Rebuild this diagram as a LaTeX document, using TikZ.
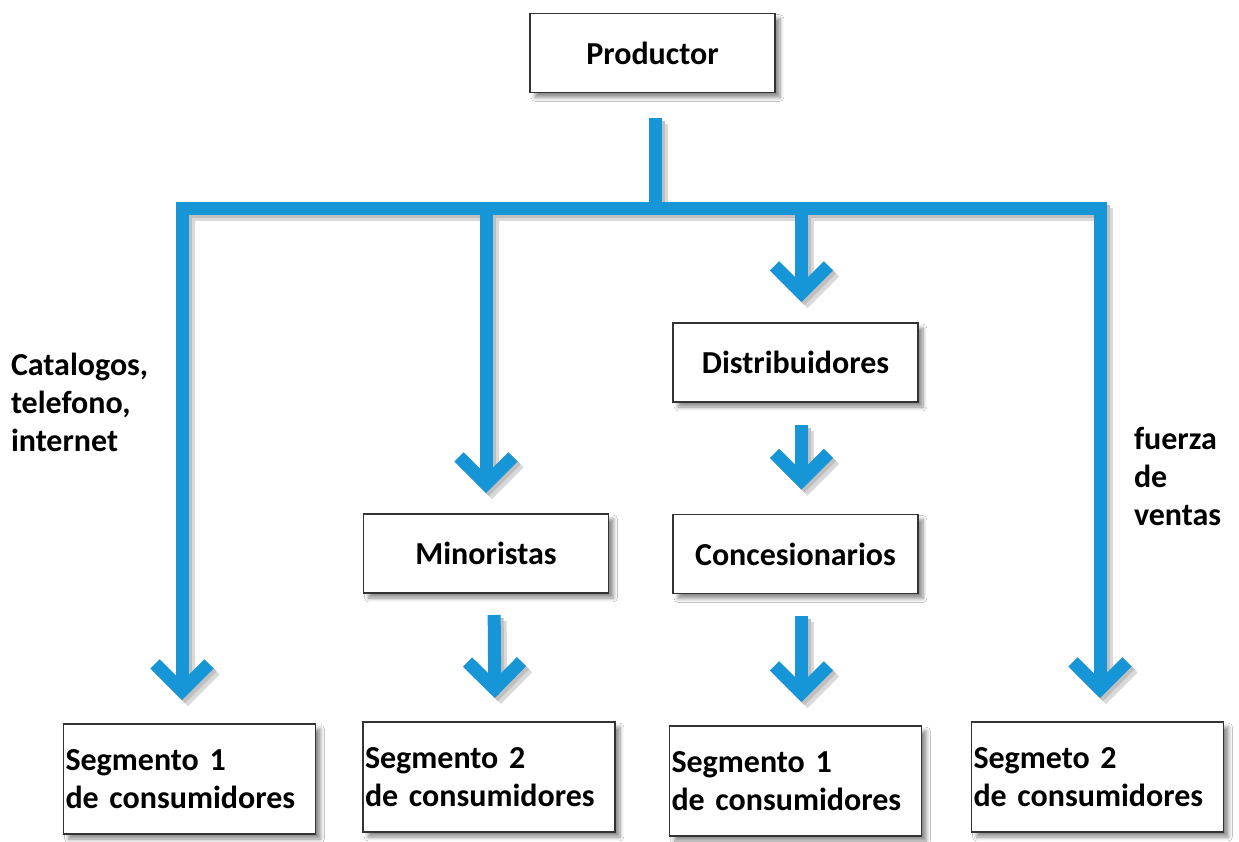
\documentclass[tikz,border=0pt]{standalone}
\usepackage{fontspec}
\setmainfont{Carlito}
\usepackage{tikz}
\usetikzlibrary{arrows.meta, calc, positioning, shadows.blur}
\definecolor{channel blue}{RGB}{22,150,214}

% all blue connectors, drawn twice (shadow, then colour)
\newcommand{\drawchannels}{
\draw[channel] ($(fork top |- productor box.south)+(0,25)$) -- (fork top);
\draw[fork, shorten <=12pt, shorten >=12pt] (fork left |- segment one box.north) -- (fork left) -- (fork right) -- (fork right |- segment four box.north);
\draw[post, shorten >=10.5pt] (fork left -| minoristas box.north) -- (minoristas box.north);
\draw[post, shorten >=10.5pt] ($(fork left -| distribuidores box.north)+(6,0)$) -- ([xshift=3pt]distribuidores box.north);
\draw[post, shorten <=11.5pt, shorten >=12.5pt] ([xshift=3pt]distribuidores box.south) -- ([xshift=3pt]concesionarios box.north);
\draw[post, shorten <=11pt, shorten >=12pt] ([xshift=3pt]concesionarios box.south) -- ([xshift=3pt]segment three box.north);
\draw[post, shorten <=11pt, shorten >=12pt] ([xshift=4pt]minoristas box.south) -- ([xshift=3pt]segment two box.north);
}

\begin{document}
\begin{tikzpicture}[x=0.5pt, y=-0.5pt, font=\fontsize{16}{19}\selectfont\bfseries]
\tikzset{every node/.style={inner sep=1mm, outer sep=0mm}}

\tikzstyle{entity}=[rectangle, draw=black!80, fill=white, line width=0.6pt, minimum width=122.5pt, minimum height=39.5pt, blur shadow={shadow xshift=2.5pt, shadow yshift=-2.5pt, shadow blur steps=6, shadow opacity=45}]
\tikzstyle{segment}=[entity, minimum width=126pt, minimum height=55pt, text width=124pt, align=left, inner sep=1pt]
\tikzstyle{side text}=[align=left, inner sep=0mm]
\tikzstyle{channel}=[draw=channel blue, line width=6.5pt, line join=miter]
\tikzstyle{post}=[channel, -{Straight Barb[sharp, length=13.5pt, width=27pt, line width=0pt 1]}]
\tikzstyle{fork}=[channel, {Straight Barb[sharp, length=13.5pt, width=27pt, line width=0pt 1]}-{Straight Barb[sharp, length=13.5pt, width=27pt, line width=0pt 1]}]

\useasboundingbox[fill=white] (0,0) rectangle (1239,842);

\node[entity] (productor box) at (652.5,53) {Productor};
\node[entity] (distribuidores box) at (795.5,362.5) {Distribuidores};
\node[entity] (concesionarios box) at (795.5,554) {Concesionarios};
\node[entity] (minoristas box) at (486,553.5) {Minoristas};

\node[segment] (segment one box) at (189.5,779) {Segmento 1\\de consumidores};
\node[segment] (segment two box) at (489,777) {Segmento 2\\de consumidores};
\node[segment] (segment three box) at (795.5,781) {Segmento 1\\de consumidores};
\node[segment] (segment four box) at (1097.5,777) {Segmeto 2\\de consumidores};

\coordinate (fork left) at (182,208);
\coordinate (fork right) at (1100,208);
\coordinate (fork top) at (655,208);

\begin{scope}[transform canvas={shift={(3pt,-3pt)}}, channel/.append style={draw=black!15}]
\drawchannels
\end{scope}
\begin{scope}[transform canvas={shift={(1.5pt,-1.5pt)}}, channel/.append style={draw=black!25}]
\drawchannels
\end{scope}
\drawchannels

\node[side text, anchor=west] (catalogos) at (11,402) {Catalogos,\\telefono,\\internet};
\node[side text, anchor=west] (fuerza) at (1134,476) {fuerza\\de\\ventas};

\end{tikzpicture}
\end{document}
